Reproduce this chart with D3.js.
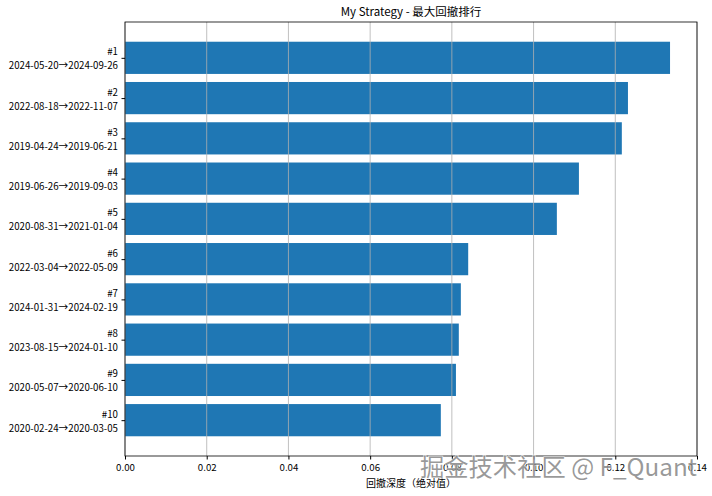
<!DOCTYPE html>
<html>
<head>
<meta charset="utf-8">
<script src="https://cdn.jsdelivr.net/npm/d3@7"></script>
<style>
  body { margin: 0; background: #fff; }
  text { font-family: "Noto Sans CJK SC", "DejaVu Sans", sans-serif; }
</style>
</head>
<body>
<div id="chart"></div>
<script>
// ranks, drawdown periods and depth (absolute value)
var ranks = ['#1', '#2', '#3', '#4', '#5', '#6', '#7', '#8', '#9', '#10'];
var periods = [
  '2024-05-20→2024-09-26',
  '2022-08-18→2022-11-07',
  '2019-04-24→2019-06-21',
  '2019-06-26→2019-09-03',
  '2020-08-31→2021-01-04',
  '2022-03-04→2022-05-09',
  '2024-01-31→2024-02-19',
  '2023-08-15→2024-01-10',
  '2020-05-07→2020-06-10',
  '2020-02-24→2020-03-05'
];
var depths = [0.1334, 0.1231, 0.1216, 0.1111, 0.1057, 0.0840, 0.0822, 0.0817, 0.0810, 0.0773];
var xTicks = [0, 0.02, 0.04, 0.06, 0.08, 0.10, 0.12, 0.14];

var W = 712, H = 496;
var margin = {top: 22, right: 15, bottom: 40, left: 125};
var iw = W - margin.left - margin.right,
    ih = H - margin.top - margin.bottom;

var svg = d3.select('#chart').append('svg')
  .attr('width', W).attr('height', H);

var g = svg.append('g').attr('transform', 'translate(' + margin.left + ',' + margin.top + ')');

var x = d3.scaleLinear().domain([0, 0.14]).range([0, iw]);
// matplotlib-like: bar i at position i, height 0.8, 5% margins
var y = d3.scaleLinear().domain([-0.89, 9.89]).range([0, ih]);

// bars
g.selectAll('rect.bar')
  .data(depths)
  .enter().append('rect')
    .attr('class', 'bar')
    .attr('x', x(0))
    .attr('y', function(d, i){ return y(i - 0.4); })
    .attr('width', function(d){ return x(d) - x(0); })
    .attr('height', y(0.4) - y(-0.4))
    .attr('fill', '#1f77b4');

// grid (drawn over bars like in the original)
g.selectAll('line.grid')
  .data(xTicks)
  .enter().append('line')
    .attr('class', 'grid')
    .attr('x1', function(d){ return x(d); })
    .attr('x2', function(d){ return x(d); })
    .attr('y1', 0).attr('y2', ih)
    .attr('stroke', '#b0b0b0').attr('stroke-width', 0.8);

// x axis
var xAxis = g.append('g')
  .attr('transform', 'translate(0,' + ih + ')')
  .call(d3.axisBottom(x).tickValues(xTicks).tickFormat(d3.format('.2f')).tickSize(3.5).tickPadding(5));
xAxis.select('.domain').remove();
xAxis.selectAll('text').attr('font-size', 9.7).attr('fill', '#000')
  .style('font-family', '"Noto Sans CJK SC", sans-serif');
xAxis.selectAll('line').attr('stroke', '#000');

// y axis with two-line labels
var yAxis = g.append('g')
  .call(d3.axisLeft(y).tickValues(d3.range(ranks.length)).tickSize(3.5).tickFormat(''));
yAxis.select('.domain').remove();
yAxis.selectAll('line').attr('stroke', '#000');
yAxis.selectAll('.tick').each(function(d){
  var t = d3.select(this).append('text')
    .attr('x', -7).attr('text-anchor', 'end')
    .attr('font-size', 9.7).attr('fill', '#000')
    .style('font-family', '"Noto Sans CJK SC", sans-serif');
  t.append('tspan').attr('x', -7).attr('y', -3).text(ranks[d]);
  t.append('tspan').attr('x', -7).attr('y', 11).text(periods[d]);
});

// frame
g.append('rect')
  .attr('width', iw).attr('height', ih)
  .attr('fill', 'none').attr('stroke', '#000').attr('stroke-width', 0.8);

// title and x label
svg.append('text')
  .attr('x', margin.left + iw / 2).attr('y', 16)
  .attr('text-anchor', 'middle').attr('font-size', 11.5).attr('fill', '#000')
  .text('My Strategy - 最大回撤排行');

svg.append('text')
  .attr('x', margin.left + iw / 2).attr('y', 487)
  .attr('text-anchor', 'middle').attr('font-size', 10).attr('fill', '#000')
  .text('回撤深度（绝对值）');

// site watermark
svg.append('text')
  .attr('x', 420).attr('y', 476)
  .attr('font-size', 24).attr('fill', 'rgba(120,120,120,0.75)')
  .attr('stroke', 'rgba(255,255,255,0.8)').attr('stroke-width', 1.2)
  .attr('paint-order', 'stroke')
  .attr('textLength', 277).attr('lengthAdjust', 'spacingAndGlyphs')
  .text('掘金技术社区 @ F_Quant');
</script>
</body>
</html>
